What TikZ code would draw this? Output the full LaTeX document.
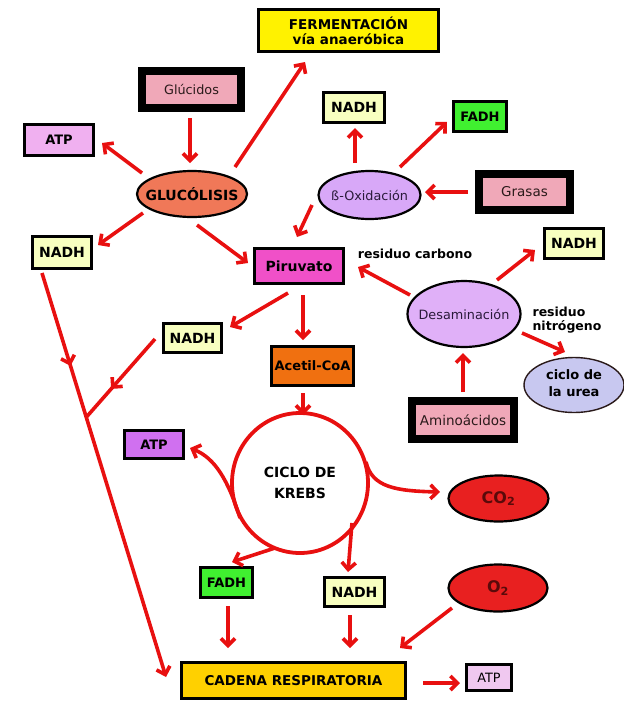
\documentclass[tikz,border=0pt]{standalone}
\usepackage{fontspec}
\setmainfont{DejaVu Sans}
\usetikzlibrary{arrows.meta,calc,shapes.geometric,decorations.markings}
\definecolor{arrred}{HTML}{E81010}
\definecolor{fermy}{HTML}{FFF200}
\definecolor{pinkb}{HTML}{F0A8B8}
\definecolor{atpa}{HTML}{F0B0F0}
\definecolor{glyco}{HTML}{F07858}
\definecolor{nadhy}{HTML}{F8FFC0}
\definecolor{piruc}{HTML}{F050C8}
\definecolor{fadhg}{HTML}{40F030}
\definecolor{betac}{HTML}{D8A8F8}
\definecolor{desamc}{HTML}{E0B0F8}
\definecolor{ureac}{HTML}{C8C8F0}
\definecolor{acetc}{HTML}{F07010}
\definecolor{atpb}{HTML}{D070F0}
\definecolor{gasr}{HTML}{E82020}
\definecolor{gast}{HTML}{5A0A0A}
\definecolor{cadc}{HTML}{FFD000}
\definecolor{atpc}{HTML}{F0C8F0}
\definecolor{darkt}{HTML}{2A1A1A}
\definecolor{purt}{HTML}{2A1A3A}
\begin{document}
\begin{tikzpicture}[x=1pt,y=-1pt,
  arr/.style={draw=arrred,line width=3.6pt,-{Straight Barb[length=7pt,width=14pt]}},
  plainline/.style={draw=arrred,line width=3.6pt},
  bx/.style={rectangle,draw=black,line width=2.6pt,inner sep=0pt,align=center},
  fb/.style={rectangle,draw=black,line width=8pt,inner sep=0pt,text=darkt},
  el/.style={ellipse,draw=black,line width=2.2pt,inner sep=0pt,align=center},
  midarr/.style={postaction={decorate},decoration={markings,mark=at position #1 with {\arrow[arrred]{Straight Barb[length=7pt,width=14pt]}}}},
  fb14/.style={font=\fontsize{14}{15}\selectfont\bfseries},
  fb13/.style={font=\fontsize{13}{15}\selectfont\bfseries},
  fr13/.style={font=\fontsize{13.5}{15}\selectfont},
  fr12/.style={font=\fontsize{12.8}{14}\selectfont},
]
\useasboundingbox (0,0) rectangle (624,702);

% nodes
\node[bx,fill=fermy,minimum width=180pt,minimum height=42pt,font=\fontsize{13.5}{15}\selectfont\bfseries] (ferm) at (348.5,30.5) {FERMENTACIÓN\\vía anaeróbica};
\node[fb,fill=pinkb,minimum width=99pt,minimum height=37pt,fr12] (gluc) at (191.5,89.5) {Glúcidos};
\node[bx,fill=atpa,minimum width=69pt,minimum height=31pt,fb13] (atp1) at (59,140) {ATP};
\node[el,fill=glyco,minimum width=110pt,minimum height=46pt,fb14] (glyc) at (192,194) {\makebox[0pt]{GLUCÓLISIS}};
\node[bx,fill=nadhy,minimum width=59pt,minimum height=32pt,fb14] (nadh1) at (62,252.5) {NADH};
\node[bx,fill=piruc,minimum width=89pt,minimum height=35pt,fb14] (piru) at (299,266) {Piruvato};
\node[bx,fill=nadhy,minimum width=61pt,minimum height=30pt,fb14] (nadh2) at (354,107.5) {NADH};
\node[bx,fill=fadhg,minimum width=53pt,minimum height=30pt,fb13] (fadh1) at (480,116.5) {FADH};
\node[el,fill=betac,minimum width=102pt,minimum height=48pt,fr12,text=purt] (box) at (369.5,195) {\makebox[0pt]{ß-Oxidación}};
\node[fb,fill=pinkb,minimum width=91pt,minimum height=36pt,fr13] (gras) at (524.5,192) {Grasas};
\node[bx,fill=nadhy,minimum width=59pt,minimum height=30pt,fb14] (nadh3) at (574,243.5) {NADH};
\node[font=\fontsize{12.5}{14}\selectfont\bfseries] (rc) at (415,254) {residuo carbono};
\node[el,fill=desamc,minimum width=113pt,minimum height=66pt,fr12,text=purt] (desam) at (464,314) {\makebox[0pt]{Desaminación}};
\node[font=\fontsize{12.5}{14}\selectfont\bfseries,align=left] (rn) at (567,320) {residuo\\nitrógeno};
\node[ellipse,draw=darkt,line width=1.4pt,inner sep=0pt,fill=ureac,minimum width=100pt,minimum height=55pt,font=\fontsize{13}{17}\selectfont\bfseries] (urea) at (574,385) {\makebox[0pt]{\begin{tabular}{@{}c@{}}ciclo de\\la urea\end{tabular}}};
\node[fb,fill=pinkb,minimum width=102pt,minimum height=38pt,fr13] (amino) at (463,420) {Aminoácidos};
\node[bx,fill=nadhy,minimum width=58pt,minimum height=29pt,fb14] (nadh4) at (192.5,338) {NADH};
\node[bx,fill=acetc,minimum width=82pt,minimum height=39pt,fb13] (acet) at (312.5,366) {Acetil-CoA};
\node[ellipse,draw=arrred,line width=3.8pt,fill=white,minimum width=136pt,minimum height=140pt,inner sep=0pt,align=center,font=\fontsize{14}{21}\selectfont\bfseries] (krebs) at (300,483) {CICLO DE\\KREBS};
\node[bx,fill=atpb,minimum width=59pt,minimum height=28pt,fb13] (atp2) at (154,444.5) {ATP};
\node[el,fill=gasr,minimum width=100pt,minimum height=46pt,text=gast,font=\fontsize{16}{18}\selectfont\bfseries] (co2) at (498.5,498.5) {CO\textsubscript{2}};
\node[bx,fill=fadhg,minimum width=52pt,minimum height=30pt,fb13] (fadh2) at (226.5,582.5) {FADH};
\node[bx,fill=nadhy,minimum width=60pt,minimum height=29pt,fb14] (nadh5) at (354.5,592) {NADH};
\node[el,fill=gasr,minimum width=99pt,minimum height=47pt,text=gast,font=\fontsize{16}{18}\selectfont\bfseries] (o2) at (498,588) {O\textsubscript{2}};
\node[bx,fill=cadc,minimum width=224pt,minimum height=36pt,font=\fontsize{13.5}{15}\selectfont\bfseries] (cad) at (293.5,680.5) {CADENA RESPIRATORIA};
\node[bx,fill=atpc,minimum width=45pt,minimum height=26pt,fr12] (atp3) at (489,677.5) {ATP};

% connectors
\draw[arr] ($(gluc)+(-1.5,28.5)$) -- ($(glyc)+(-2,-31)$);
\draw[arr] ($(glyc)+(-50,-21)$) -- ($(atp1)+(43,3)$);
\draw[arr] ($(glyc)+(43,-27)$) -- ($(ferm)+(-43.5,31.5)$);
\draw[arr] ($(glyc)+(-49,19)$) -- ($(nadh1)+(36,-7.5)$);
\draw[arr] ($(glyc)+(5,31)$) -- ($(piru)+(-51,-3)$);
\draw[arr] ($(box)+(-57.5,10)$) -- ($(piru)+(-2,-29)$);
\draw[arr] ($(box)+(-14.5,-32)$) -- ($(nadh2)+(1,20.5)$);
\draw[arr] ($(box)+(30.5,-28)$) -- ($(fadh1)+(-33,5.5)$);
\draw[arr] ($(gras)+(-56.5,0)$) -- ($(box)+(55.5,-3)$);
\draw[arr] ($(desam)+(-54,-19)$) -- ($(piru)+(59,1)$);
\draw[arr] ($(desam)+(33,-34)$) -- ($(nadh3)+(-39,6.5)$);
\draw[arr] ($(desam)+(58,19)$) -- ($(urea)+(-9,-33)$);
\draw[arr] ($(amino)+(0,-28)$) -- ($(desam)+(-1,39)$);
\draw[arr] ($(piru)+(-11,27)$) -- ($(nadh4)+(37.5,-11)$);
\draw[arr] ($(piru)+(4,29)$) -- ($(acet)+(-9.5,-26)$);
\draw[arr] ($(acet)+(-9.5,27)$) -- ($(krebs)+(3,-68)$);
\draw[arr] ($(krebs)+(-60,35)$) .. controls ($(krebs)+(-72,-3)$) and ($(krebs)+(-85,-25)$) .. ($(atp2)+(36,3.5)$);
\draw[arr] ($(krebs)+(66,-21)$) .. controls ($(krebs)+(72,4)$) and ($(krebs)+(95,8)$) .. ($(co2)+(-58.5,-6.5)$);
\draw[arr] ($(krebs)+(-25,65)$) -- ($(fadh2)+(5.5,-20.5)$);
\draw[arr] ($(krebs)+(52,40)$) -- ($(nadh5)+(-6.5,-20)$);
\draw[arr] ($(fadh2)+(1.5,23.5)$) -- ($(cad)+(-65.5,-32.5)$);
\draw[arr] ($(nadh5)+(-4.5,23)$) -- ($(cad)+(56.5,-32.5)$);
\draw[arr] ($(o2)+(-46,20)$) -- ($(cad)+(106.5,-32.5)$);
\draw[arr] ($(cad)+(129.5,2.5)$) -- ($(atp3)+(-29,5.5)$);
% long line to the respiratory chain
\coordinate (lstart) at ($(nadh1)+(-20,20.5)$);
\coordinate (lend) at ($(cad)+(-127.5,-3.5)$);
\coordinate (joint) at ($(lstart)!0.357!(lend)$);
\draw[arr,midarr=0.23] (lstart) -- (lend);
\draw[plainline,midarr=0.64] ($(nadh4)+(-37.5,1)$) -- (joint);
\end{tikzpicture}
\end{document}
